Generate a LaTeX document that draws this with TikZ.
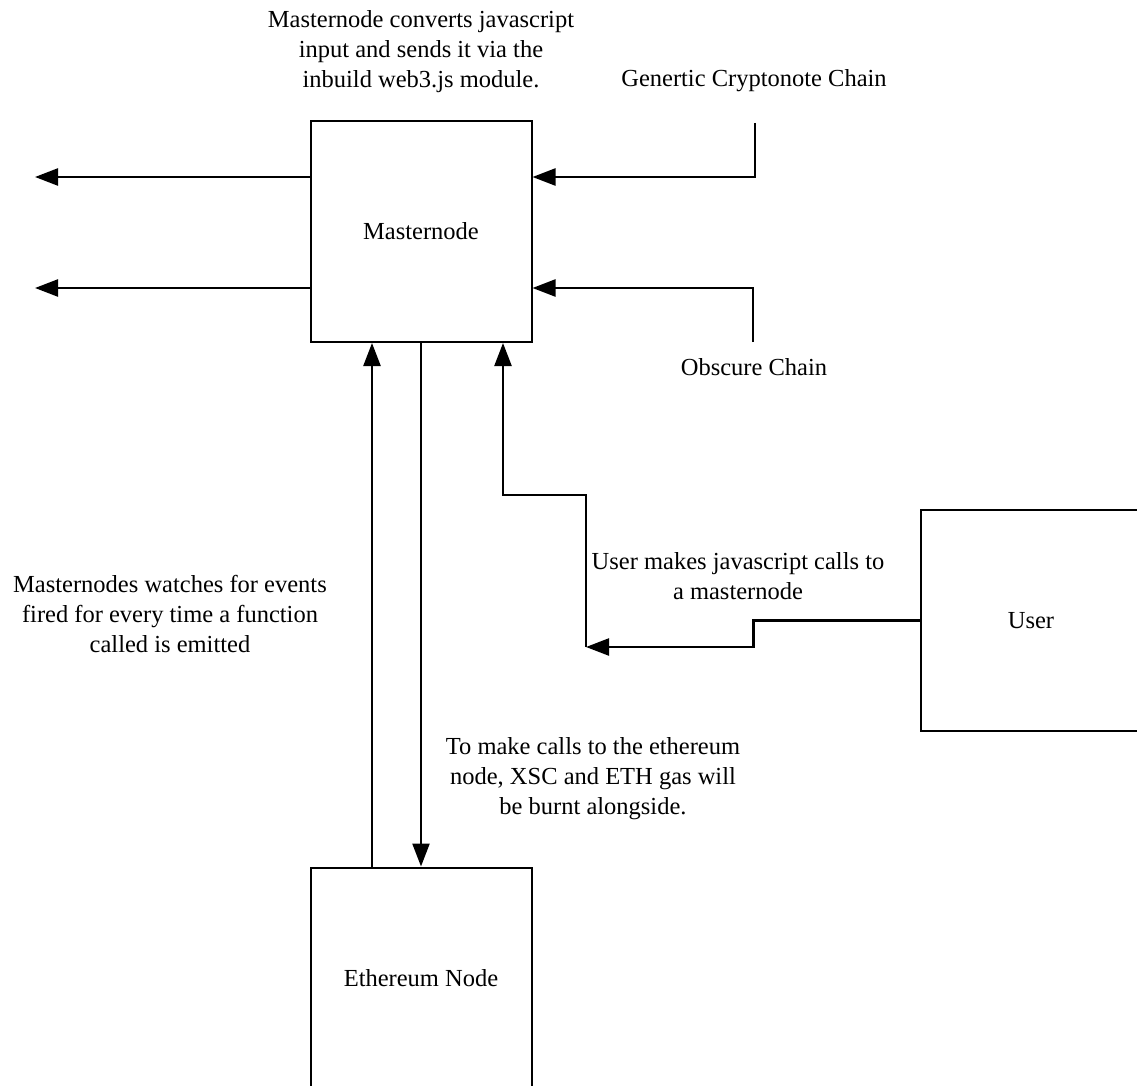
\documentclass[tikz,border=0pt]{standalone}
\usepackage{fontspec}
\setmainfont{Liberation Serif}
\usetikzlibrary{arrows.meta}
\begin{document}
\begin{tikzpicture}[x=1pt,y=-1pt,
  box/.style={draw=black,line width=2pt,minimum width=221pt,minimum height=221pt,inner sep=0pt,font=\fontsize{24.5}{30}\selectfont},
  lbl/.style={align=center,inner sep=0pt,font=\fontsize{24.5}{30}\selectfont},
  arr/.style={draw=black,line width=2.4pt,-{Triangle[length=23pt,width=17pt]}},
  ln/.style={draw=black,line width=2.4pt}]
\useasboundingbox (0,0) rectangle (1137,1086);
\clip (0,0) rectangle (1137,1086);
% boxes
\node[box] (mn) at (421,231.5) {Masternode};
\node[box] (eth) at (421,978) {Ethereum Node};
\node[box] (user) at (1031,620.5) {User};
% labels
\node[lbl] (top) at (421,52) {Masternode converts javascript\\input and sends it via the\\inbuild web3.js module.};
\node[lbl] (gen) at (754,81) {Genertic Cryptonote Chain};
\node[lbl] (obs) at (754,367) {Obscure Chain};
\node[lbl] (ucall) at (738,576) {User makes javascript calls to\\a masternode};
\node[lbl] (watch) at (170,614) {Masternodes watches for events\\fired for every time a function\\called is emitted};
\node[lbl] (burn) at (593,779) {To make calls to the ethereum\\node, XSC and ETH gas will\\be burnt alongside.};
% coordinates
\coordinate (outA) at (35,177);
\coordinate (outB) at (35,288);
\coordinate (genTop) at (755,123);
\coordinate (obsBot) at (753,342);
\coordinate (j) at (586,647);
\coordinate (bend) at (586,495);
% connectors
\draw[arr] (mn.west |- outA) -- (outA);
\draw[arr] (mn.west |- outB) -- (outB);
\draw[arr] (genTop) |- (mn.east |- outA);
\draw[arr] (obsBot) |- (mn.east |- outB);
\draw[arr] ([xshift=-49pt]eth.north) -- ([xshift=-49pt]mn.south);
\draw[arr] (mn.south) -- (eth.north);
\draw[arr] (user.west) -- ++(-166,0) |- (j);
\draw[arr] (j) -- (bend) -| ([xshift=82pt]mn.south);
\end{tikzpicture}
\end{document}
